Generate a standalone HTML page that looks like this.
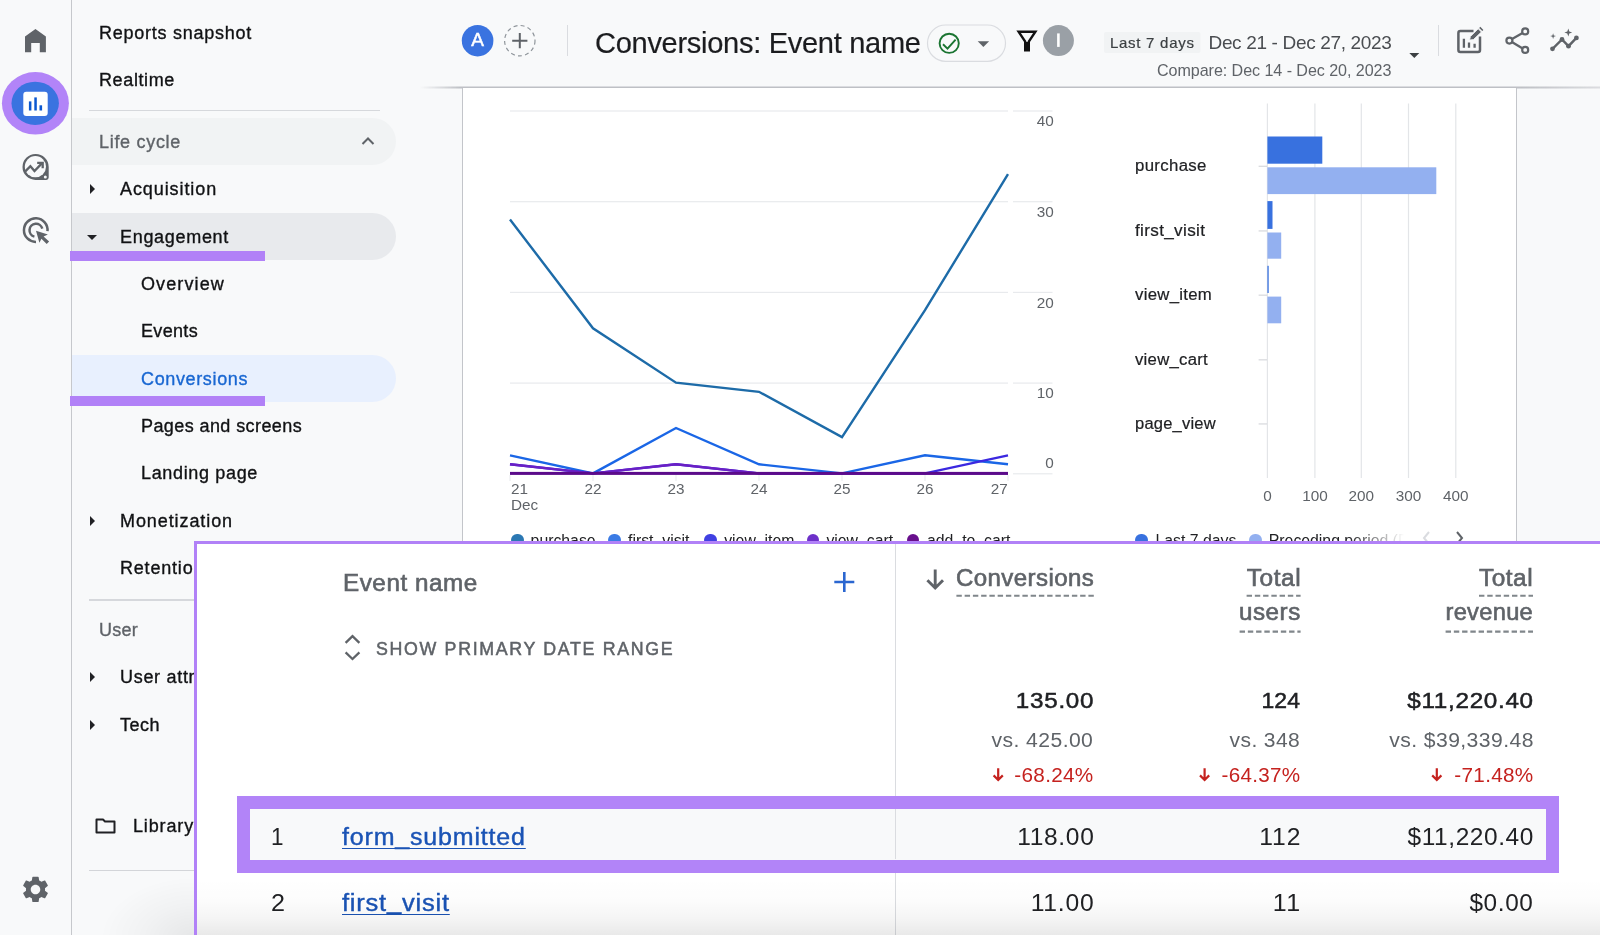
<!DOCTYPE html>
<html>
<head>
<meta charset="utf-8">
<title>Conversions: Event name</title>
<style>
html,body{margin:0;padding:0;}
body{width:1600px;height:935px;overflow:hidden;position:relative;background:#f8f9fa;font-family:"Liberation Sans",sans-serif;color:#202124;}
.abs{position:absolute;}
.t{position:absolute;white-space:nowrap;line-height:1;}
svg{position:absolute;overflow:visible;}
/* nav */
.nav{font-size:18px;color:#111214;-webkit-text-stroke-width:0.35px;}
.pill{position:absolute;left:72px;width:324px;height:47px;border-radius:0 24px 24px 0;}
.sep{position:absolute;height:1px;background:#dadce0;}
.ul{position:absolute;background:#b181f7;}
.tri{position:absolute;width:0;height:0;}
/* chart */
.ax{font-size:15.3px;color:#5f6368;}
.bl{font-size:16px;color:#202124;-webkit-text-stroke-width:0.2px;}
/* overlay */
.hd{font-size:23px;color:#5f6368;-webkit-text-stroke:0.6px #5f6368;}
.du{position:absolute;height:0;border-top:2px dashed #80868b;}
.tot{font-size:22.6px;color:#202124;-webkit-text-stroke:0.5px #202124;}
.vs{font-size:20px;color:#5f6368;}
.pc{font-size:20px;color:#c5221f;}
.cell{font-size:23px;color:#202124;}
.lnk{font-size:23px;color:#1a53b5;text-decoration:underline;text-decoration-thickness:1.3px;text-underline-offset:2.6px;text-decoration-skip-ink:none;-webkit-text-stroke:0.4px #1a53b5;}
.lnk span{position:relative;top:-1.6px;}
</style>
</head>
<body>
<div id="wrap" style="position:absolute;left:0;top:0;width:1600px;height:935px;will-change:transform;">

<!-- ============ LEFT ICON RAIL ============ -->
<div id="rail" class="abs" style="left:0;top:0;width:71px;height:935px;background:#f8f9fa;border-right:1.3px solid #c6c8cc;"></div>
<!-- home -->
<svg style="left:0;top:0;" width="72" height="935" viewBox="0 0 72 935">
<path d="M35.45 29 L25 36.6 V52.3 H31.2 V42.9 H39.8 V52.3 H45.9 V36.6 Z" fill="#5f6368"/>
<!-- reports (active) -->
<ellipse cx="35.4" cy="103.3" rx="33.5" ry="31.2" fill="#b284f8"/>
<ellipse cx="35.2" cy="103.3" rx="23.7" ry="21.6" fill="#3a73e0"/>
<rect x="23.3" y="91.8" width="24.4" height="24.2" rx="3" fill="#fff"/>
<rect x="28.9" y="101.4" width="2.5" height="9.1" fill="#0b57d0"/>
<rect x="34.3" y="97.4" width="2.5" height="13.1" fill="#0b57d0"/>
<rect x="39.5" y="105.3" width="2.6" height="5.2" fill="#0b57d0"/>
<!-- explore -->
<path d="M35.5 153.9 A13 13 0 1 0 35.5 179.9 H46.3 A2.4 2.4 0 0 0 48.7 177.5 V166.9 A13 13 0 0 0 35.5 153.9 Z" fill="#5f6368"/>
<circle cx="35.4" cy="166.7" r="10.6" fill="#f8f9fa"/>
<circle cx="45.3" cy="176.9" r="1.5" fill="#f8f9fa"/>
<path d="M25.3 171.4 L30.4 166.2 L34.5 171 L41.6 163.6" fill="none" stroke="#5f6368" stroke-width="2.3"/>
<path d="M37.2 162.9 H42.7 V168.2" fill="none" stroke="#5f6368" stroke-width="2.3"/>
<!-- advertising -->
<path d="M47.5 231.2 A11.8 11.8 0 1 0 36 241.9" fill="none" stroke="#5f6368" stroke-width="2.5"/>
<path d="M42.3 228.6 A6.5 6.5 0 1 0 34.4 236.6" fill="none" stroke="#5f6368" stroke-width="2.5"/>
<path d="M36 230.7 L47.9 234.4 L43.6 236.4 L49.1 241.6 L46.7 243.9 L41.4 238.7 L39.4 242.8 Z" fill="#5f6368"/>
<!-- settings gear -->
<g transform="translate(19.6,873.5) scale(1.325)"><path fill="#5f6368" d="M19.14 12.94c.04-.3.06-.61.06-.94 0-.32-.02-.64-.07-.94l2.03-1.58c.18-.14.23-.41.12-.61l-1.92-3.32c-.12-.22-.37-.29-.59-.22l-2.39.96c-.5-.38-1.03-.7-1.62-.94l-.36-2.54c-.04-.24-.24-.41-.48-.41h-3.84c-.24 0-.43.17-.47.41l-.36 2.54c-.59.24-1.13.57-1.62.94l-2.39-.96c-.22-.08-.47 0-.59.22L2.74 8.87c-.12.21-.08.47.12.61l2.03 1.58c-.05.3-.09.63-.09.94s.02.64.07.94l-2.03 1.58c-.18.14-.23.41-.12.61l1.92 3.32c.12.22.37.29.59.22l2.39-.96c.5.38 1.03.7 1.62.94l.36 2.54c.05.24.24.41.48.41h3.84c.24 0 .44-.17.47-.41l.36-2.54c.59-.24 1.13-.56 1.62-.94l2.39.96c.22.08.47 0 .59-.22l1.92-3.32c.12-.22.07-.47-.12-.61l-2.01-1.58zM12 15.6c-1.98 0-3.6-1.62-3.6-3.6s1.62-3.6 3.6-3.6 3.6 1.62 3.6 3.6-1.62 3.6-3.6 3.6z"/></g>
</svg>


<!-- ============ NAV PANEL ============ -->
<div id="nav" class="abs" style="left:72px;top:0;width:350px;height:935px;"></div>
<!-- pills -->
<div class="pill" style="top:118px;background:#f1f3f4;"></div>
<div class="pill" style="top:213px;background:#e8eaed;"></div>
<div class="pill" style="top:355px;background:#e8f0fe;"></div>
<!-- purple underlines -->
<div class="ul" style="left:70px;top:251px;width:195px;height:9.5px;"></div>
<div class="ul" style="left:70px;top:395.5px;width:195px;height:10px;"></div>
<!-- separators -->
<div class="sep" style="left:89px;top:110.1px;width:291px;height:1.3px;background:#d6d8dc;"></div>
<div class="sep" style="left:89px;top:599.3px;width:120px;height:1.3px;background:#d6d8dc;"></div>
<div class="sep" style="left:89px;top:869.5px;width:120px;height:1.4px;background:#d3d5d9;"></div>
<!-- text -->
<div class="t nav" id="n1" style="letter-spacing:0.74px;left:99px;top:24px;">Reports snapshot</div>
<div class="t nav" id="n2" style="letter-spacing:0.62px;left:99px;top:71px;">Realtime</div>
<div class="t nav" id="n3" style="letter-spacing:0.7px;left:99px;top:133px;color:#5f6368;">Life cycle</div>
<div class="t nav" id="n4" style="letter-spacing:0.91px;left:120px;top:180px;">Acquisition</div>
<div class="t nav" id="n5" style="letter-spacing:0.69px;left:120px;top:228px;">Engagement</div>
<div class="t nav" id="n6" style="letter-spacing:1.12px;left:141px;top:275px;">Overview</div>
<div class="t nav" id="n7" style="letter-spacing:0.33px;left:141px;top:322px;">Events</div>
<div class="t nav" id="n8" style="letter-spacing:0.64px;left:141px;top:370px;color:#1967d2;">Conversions</div>
<div class="t nav" id="n9" style="letter-spacing:0.41px;left:141px;top:417px;">Pages and screens</div>
<div class="t nav" id="n10" style="letter-spacing:0.66px;left:141px;top:464px;">Landing page</div>
<div class="t nav" id="n11" style="letter-spacing:0.91px;left:120px;top:512px;">Monetization</div>
<div class="t nav" id="n12" style="letter-spacing:0.8px;left:120px;top:559px;">Retention</div>
<div class="t nav" id="n13" style="letter-spacing:0.25px;left:99px;top:621px;color:#5f6368;">User</div>
<div class="t nav" id="n14" style="letter-spacing:0.7px;left:120px;top:668px;">User attributes</div>
<div class="t nav" id="n15" style="letter-spacing:0.5px;left:120px;top:716px;">Tech</div>
<div class="t nav" id="n16" style="letter-spacing:0.86px;left:133px;top:817px;">Library</div>
<!-- triangles -->
<div class="tri" style="left:90px;top:184px;border-top:5px solid transparent;border-bottom:5px solid transparent;border-left:5px solid #202124;"></div>
<div class="tri" style="left:87px;top:235px;border-left:5px solid transparent;border-right:5px solid transparent;border-top:5px solid #202124;"></div>
<div class="tri" style="left:90px;top:516px;border-top:5px solid transparent;border-bottom:5px solid transparent;border-left:5px solid #202124;"></div>
<div class="tri" style="left:90px;top:672px;border-top:5px solid transparent;border-bottom:5px solid transparent;border-left:5px solid #202124;"></div>
<div class="tri" style="left:90px;top:720px;border-top:5px solid transparent;border-bottom:5px solid transparent;border-left:5px solid #202124;"></div>
<!-- chevron up -->
<svg style="left:361px;top:136px;" width="14" height="10" viewBox="0 0 14 10"><path d="M1.5 8 L7 2.5 L12.5 8" fill="none" stroke="#5f6368" stroke-width="2"/></svg>
<!-- folder -->
<svg style="left:95px;top:817px;" width="21" height="17" viewBox="0 0 21 17"><path d="M1.5 2.5 H8 L10 4.5 H19.5 V15.5 H1.5 Z" fill="none" stroke="#202124" stroke-width="2" stroke-linejoin="round"/></svg>


<!-- ============ HEADER ============ -->
<div id="header" class="abs" style="left:422px;top:0;width:1178px;height:87px;"></div>
<!-- header bottom line + soft shadow -->
<div class="abs" style="left:420px;top:86px;width:1180px;height:3px;background:linear-gradient(to right,rgba(190,192,197,0) 0,rgba(190,192,197,1) 40px,rgba(190,192,197,1) 1100px,rgba(190,192,197,0.5) 1180px);-webkit-mask-image:linear-gradient(to bottom,rgba(0,0,0,.25),rgba(0,0,0,1) 50%,rgba(0,0,0,.25));"></div>
<svg style="left:0;top:0;" width="1600" height="88" viewBox="0 0 1600 88">
<!-- A badge -->
<circle cx="477.6" cy="40.7" r="15.8" fill="#3a73e0"/>
<!-- dashed add -->
<circle cx="519.8" cy="40.7" r="15.2" fill="none" stroke="#8f959b" stroke-width="1.2" stroke-dasharray="4 3.2"/>
<path d="M512.2 40.7 H527.4 M519.8 33.1 V48.3" stroke="#5f6368" stroke-width="2" fill="none"/>
<rect x="567" y="25" width="1" height="31" fill="#dadce0"/>
<!-- status pill -->
<rect x="927.5" y="25" width="78" height="36.3" rx="18.1" fill="none" stroke="#dadce0" stroke-width="1.2"/>
<circle cx="949.2" cy="43.3" r="9.6" fill="none" stroke="#1a7431" stroke-width="1.9"/>
<path d="M943 44.3 L947.5 48.6 L955.6 39.6" fill="none" stroke="#1a7431" stroke-width="1.9"/>
<path d="M977.7 41.3 H989.1 L983.4 47 Z" fill="#5f6368"/>
<!-- filter -->
<path d="M1018.6 31.7 H1035.4 L1028.8 41.6 V50.2 H1025.2 V41.6 Z" fill="none" stroke="#111" stroke-width="2.4" stroke-linejoin="miter"/>
<rect x="1024.6" y="42" width="4.8" height="9" fill="#111"/>
<!-- I badge -->
<circle cx="1058.4" cy="40.6" r="15.5" fill="#9aa0a6"/>
<rect x="1057.1" y="33.4" width="2.6" height="13.5" fill="#fff"/>
<!-- date chip -->
<rect x="1104" y="32" width="96.5" height="21" rx="2" fill="#f1f3f4"/>
<path d="M1409.3 53 H1419.3 L1414.3 58 Z" fill="#3c4043"/>
<rect x="1438" y="25" width="1" height="31" fill="#dadce0"/>
<!-- edit chart icon -->
<path d="M1473.5 30.9 H1460.4 a2 2 0 0 0 -2 2 V50 a2 2 0 0 0 2 2 H1478 a2 2 0 0 0 2 -2 V36.5" fill="none" stroke="#5f6368" stroke-width="2.5"/>
<path d="M1463.9 38.7 V47.8 M1469 42.6 V47.8 M1474.6 43.8 V47.8" stroke="#5f6368" stroke-width="2.3" fill="none"/>
<path d="M1469.6 40 L1470.4 36.6 L1478.2 28.8 L1481.4 32 L1473.4 39.6 Z" fill="#5f6368" stroke="#f8f9fa" stroke-width="0.8"/>
<path d="M1479.2 27.9 L1480.3 26.8 L1483.4 29.9 L1482.3 31 Z" fill="#5f6368"/>
<!-- share icon -->
<path d="M1525.2 31.4 L1509.4 40.6 L1525.2 49.9" fill="none" stroke="#5f6368" stroke-width="2.3"/>
<circle cx="1525.2" cy="31.4" r="3" fill="#f8f9fa" stroke="#5f6368" stroke-width="2.2"/>
<circle cx="1509.4" cy="40.6" r="3" fill="#f8f9fa" stroke="#5f6368" stroke-width="2.2"/>
<circle cx="1525.2" cy="49.9" r="3" fill="#f8f9fa" stroke="#5f6368" stroke-width="2.2"/>
<!-- insights icon -->
<path d="M1552.5 48.8 L1562 39.5 L1568.5 46.2 L1576.4 37.9" fill="none" stroke="#5f6368" stroke-width="2.4"/>
<circle cx="1552.5" cy="48.8" r="2.4" fill="#5f6368"/><circle cx="1562" cy="39.5" r="2.4" fill="#5f6368"/><circle cx="1568.5" cy="46.2" r="2.4" fill="#5f6368"/><circle cx="1576.4" cy="37.9" r="2.4" fill="#5f6368"/>
<path d="M1568.3 28.6 L1569.3 31.5 L1572.2 32.5 L1569.3 33.5 L1568.3 36.4 L1567.3 33.5 L1564.4 32.5 L1567.3 31.5 Z" fill="#5f6368"/>
<path d="M1553.1 33.2 L1553.8 35.4 L1556 36.1 L1553.8 36.8 L1553.1 39 L1552.4 36.8 L1550.2 36.1 L1552.4 35.4 Z" fill="#5f6368"/>
</svg>
<div class="t" id="hA" style="left:471.2px;top:30.3px;font-size:19px;color:#fff;-webkit-text-stroke-width:0.5px;">A</div>
<div class="t" id="hT" style="top:27.6px;font-size:30px;color:#1b1c1f;-webkit-text-stroke-width:0.2px;letter-spacing:-0.32px;transform:scaleX(0.9688);transform-origin:left;left:594.6px;">Conversions: Event name</div>
<div class="t" id="hL" style="left:1110px;top:35px;font-size:15px;color:#3c4043;letter-spacing:0.72px;-webkit-text-stroke-width:0.2px;">Last 7 days</div>
<div class="t" id="hD" style="left:1208.5px;top:32.7px;font-size:19px;letter-spacing:-0.34px;color:#4a4d51;">Dec 21 - Dec 27, 2023</div>
<div class="t" id="hC" style="left:1157px;top:61.6px;font-size:16.1px;letter-spacing:-0.06px;color:#5f6368;">Compare: Dec 14 - Dec 20, 2023</div>


<!-- ============ CARD ============ -->
<div id="card" class="abs" style="left:462px;top:88px;width:1053px;height:847px;background:#fff;border-left:1px solid #c3c5ca;border-right:1px solid #c3c5ca;"></div>
<!-- line chart -->
<svg style="left:0;top:0;" width="1600" height="560" viewBox="0 0 1600 560">
<rect x="510" y="110.4" width="498" height="1.2" fill="#e8eaed"/><rect x="1013" y="110.4" width="39.5" height="1.2" fill="#e8eaed"/><rect x="510" y="201.1" width="498" height="1.2" fill="#e8eaed"/><rect x="1013" y="201.1" width="39.5" height="1.2" fill="#e8eaed"/><rect x="510" y="291.8" width="498" height="1.2" fill="#e8eaed"/><rect x="1013" y="291.8" width="39.5" height="1.2" fill="#e8eaed"/><rect x="510" y="382.5" width="498" height="1.2" fill="#e8eaed"/><rect x="1013" y="382.5" width="39.5" height="1.2" fill="#e8eaed"/><rect x="1013" y="473.2" width="39.5" height="1.2" fill="#e8eaed"/><rect x="509.5" y="475" width="1" height="6" fill="#e8eaed"/><rect x="592.5" y="475" width="1" height="6" fill="#e8eaed"/><rect x="675.5" y="475" width="1" height="6" fill="#e8eaed"/><rect x="758.5" y="475" width="1" height="6" fill="#e8eaed"/><rect x="841.5" y="475" width="1" height="6" fill="#e8eaed"/><rect x="924.5" y="475" width="1" height="6" fill="#e8eaed"/><rect x="1007.5" y="475" width="1" height="6" fill="#e8eaed"/>
<polyline points="510.0,219.4 593.0,328.3 676.0,382.7 759.0,391.8 842.0,437.1 925.0,310.1 1008.0,174.1" fill="none" stroke="#1d6ba8" stroke-width="2.4" stroke-linejoin="miter"/>
<polyline points="510.0,455.3 593.0,473.4 676.0,428.0 759.0,464.3 842.0,473.4 925.0,455.3 1008.0,464.3" fill="none" stroke="#1a66e6" stroke-width="2.4"/>
<polyline points="510.0,464.3 593.0,473.4 676.0,464.3 759.0,473.4 842.0,473.4 925.0,473.4 1008.0,455.3" fill="none" stroke="#3b28e0" stroke-width="2.4"/>
<polyline points="510.0,464.3 593.0,473.4 676.0,464.3 759.0,473.4 842.0,473.4 925.0,473.4 1008.0,473.4" fill="none" stroke="#6a1fc4" stroke-width="2.4"/>
<rect x="510" y="471.9" width="498" height="3" fill="#5b0b8a"/>
</svg>
<div class="t ax" style="right:546.2px;top:113.3px;">40</div><div class="t ax" style="right:546.2px;top:204.0px;">30</div><div class="t ax" style="right:546.2px;top:294.7px;">20</div><div class="t ax" style="right:546.2px;top:385.4px;">10</div><div class="t ax" style="right:546.2px;top:455.4px;">0</div><div class="t ax" style="left:511px;top:481.1px;">21</div><div class="t ax" style="left:511px;top:496.7px;">Dec</div><div class="t ax" style="left:573px;top:481.1px;width:40px;text-align:center;">22</div><div class="t ax" style="left:656px;top:481.1px;width:40px;text-align:center;">23</div><div class="t ax" style="left:739px;top:481.1px;width:40px;text-align:center;">24</div><div class="t ax" style="left:822px;top:481.1px;width:40px;text-align:center;">25</div><div class="t ax" style="left:905px;top:481.1px;width:40px;text-align:center;">26</div><div class="t ax" style="right:592.2px;top:481.1px;">27</div><div class="abs" style="left:510.8px;top:533.5px;width:12.8px;height:12.8px;border-radius:50%;background:#2b78b3;"></div><div class="t" style="left:530.6px;top:532.9px;font-size:15.8px;color:#202124;">purchase</div><div class="abs" style="left:608.0px;top:533.5px;width:12.8px;height:12.8px;border-radius:50%;background:#3b7be5;"></div><div class="t" style="left:628.0px;top:532.9px;font-size:15.8px;color:#202124;">first_visit</div><div class="abs" style="left:704.3px;top:533.5px;width:12.8px;height:12.8px;border-radius:50%;background:#4040e2;"></div><div class="t" style="left:724.2px;top:532.9px;font-size:15.8px;color:#202124;">view_item</div><div class="abs" style="left:806.7px;top:533.5px;width:12.8px;height:12.8px;border-radius:50%;background:#6d30c9;"></div><div class="t" style="left:826.4px;top:532.9px;font-size:15.8px;color:#202124;">view_cart</div><div class="abs" style="left:906.7px;top:533.5px;width:12.8px;height:12.8px;border-radius:50%;background:#680f8c;"></div><div class="t" style="left:927.0px;top:532.9px;font-size:15.8px;color:#202124;">add_to_cart</div>

<!-- bar chart -->
<svg style="left:0;top:0;" width="1600" height="560" viewBox="0 0 1600 560"><rect x="1266.8" y="103.5" width="1.2" height="374.5" fill="#e3e5e8"/><rect x="1314.3" y="103.5" width="1.2" height="374.5" fill="#e3e5e8"/><rect x="1360.7" y="103.5" width="1.2" height="374.5" fill="#e3e5e8"/><rect x="1407.9" y="103.5" width="1.2" height="374.5" fill="#e3e5e8"/><rect x="1455.2" y="103.5" width="1.2" height="374.5" fill="#e3e5e8"/><rect x="1258.6" y="165.7" width="8.4" height="1.1" fill="#d3d5d9"/><rect x="1258.6" y="230.4" width="8.4" height="1.1" fill="#d3d5d9"/><rect x="1258.6" y="294.6" width="8.4" height="1.1" fill="#d3d5d9"/><rect x="1258.6" y="359.3" width="8.4" height="1.1" fill="#d3d5d9"/><rect x="1258.6" y="423.4" width="8.4" height="1.1" fill="#d3d5d9"/><rect x="1267.4" y="136.5" width="54.9" height="27.2" fill="#3871df"/><rect x="1267.4" y="167.3" width="168.9" height="26.8" fill="#93b0f0"/>
<rect x="1267.4" y="201.1" width="5.1" height="27.8" fill="#3871df"/><rect x="1267.4" y="232.5" width="13.8" height="26.2" fill="#93b0f0"/>
<rect x="1267.4" y="265.8" width="1.3" height="27.2" fill="#3871df"/><rect x="1267.4" y="296.6" width="13.8" height="26.7" fill="#93b0f0"/></svg>
<div class="t bl" id="b1" style="top:158.1px;letter-spacing:0.32px;transform:scaleX(1.0491);transform-origin:left;left:1134.9px;">purchase</div><div class="t bl" id="b2" style="top:222.8px;letter-spacing:0.31px;transform:scaleX(1.0704);transform-origin:left;left:1135.3px;">first_visit</div><div class="t bl" id="b3" style="top:287.0px;letter-spacing:0.28px;transform:scaleX(1.0455);transform-origin:left;left:1135.3px;">view_item</div><div class="t bl" id="b4" style="top:351.7px;letter-spacing:0.26px;transform:scaleX(1.0441);transform-origin:left;left:1135.3px;">view_cart</div><div class="t bl" id="b5" style="top:415.8px;letter-spacing:0.21px;transform:scaleX(1.0322);transform-origin:left;left:1134.9px;">page_view</div><div class="t ax" style="left:1237.4px;top:487.5px;width:60px;text-align:center;">0</div><div class="t ax" style="left:1284.9px;top:487.5px;width:60px;text-align:center;">100</div><div class="t ax" style="left:1331.3px;top:487.5px;width:60px;text-align:center;">200</div><div class="t ax" style="left:1378.5px;top:487.5px;width:60px;text-align:center;">300</div><div class="t ax" style="left:1425.8px;top:487.5px;width:60px;text-align:center;">400</div><div class="abs" style="left:1135.3px;top:533.5px;width:12.8px;height:12.8px;border-radius:50%;background:#3871df;"></div><div class="t" style="left:1155.5px;top:532.9px;font-size:15.8px;color:#202124;">Last 7 days</div>
<div class="abs" style="left:1249.3px;top:533.5px;width:12.8px;height:12.8px;border-radius:50%;background:#93b0f0;"></div><div class="t" style="left:1268.8px;top:532.9px;font-size:15.8px;color:#202124;-webkit-mask-image:linear-gradient(to right,#000 0,#000 78px,transparent 135px);">Preceding period (Dec</div>
<svg style="left:1420px;top:530px;" width="50" height="14" viewBox="0 0 50 14"><path d="M9 2 L4 8 L9 14" fill="none" stroke="#dadce0" stroke-width="2"/><path d="M37 2 L42 8 L37 14" fill="none" stroke="#5f6368" stroke-width="2"/></svg>


<!-- ============ OVERLAY ============ -->
<div class="abs" style="left:72px;top:815px;width:123px;height:120px;background:radial-gradient(ellipse 95px 62px at 100% 103%,rgba(0,0,0,0.075),rgba(0,0,0,0.028) 55%,rgba(0,0,0,0) 100%);"></div>
<div id="overlay" class="abs" style="left:194px;top:541px;width:1406px;height:394px;background:#fff;border-left:3px solid #b181f7;border-top:3px solid #b181f7;box-sizing:border-box;"></div>
<!-- column divider -->
<div class="abs" style="left:895px;top:544px;width:1px;height:391px;background:#dadce0;"></div>
<!-- highlight row -->
<div class="abs" style="left:237.2px;top:795.7px;width:1321.4px;height:77px;box-sizing:border-box;border:13.4px solid #b284f8;background:#f8f9fa;"></div>
<div class="abs" style="left:895px;top:809px;width:1px;height:50.4px;background:#dadce0;"></div>
<svg style="left:0;top:541px;" width="1600" height="394" viewBox="0 541 1600 394">
<!-- plus -->
<path d="M834.3 582 H854.3 M844.3 572 V592" stroke="#2a66d0" stroke-width="2.6" fill="none"/>
<!-- sort chevrons -->
<path d="M345.6 642.8 L352.5 636.2 L359.4 642.8" fill="none" stroke="#5f6368" stroke-width="2.3"/>
<path d="M345.6 652.4 L352.5 659 L359.4 652.4" fill="none" stroke="#5f6368" stroke-width="2.3"/>
<!-- sort arrow -->
<path d="M935.2 569.6 V587 M927.4 580.2 L935.2 588 L943 580.2" fill="none" stroke="#5f6368" stroke-width="2.9"/>
<!-- dashed underlines -->
<path d="M956.4 595.7 H1094 M1246.6 595.7 H1300.6 M1239.6 631.6 H1300.6 M1479 595.7 H1533 M1445.6 631.6 H1533" stroke="#80868b" stroke-width="2.1" stroke-dasharray="5.4 2.85" fill="none"/>
<!-- red arrows -->
<g fill="none" stroke="#c5221f" stroke-width="2.2">
<path d="M998.2 768.2 V779.6 M993.6 775.4 L998.2 780 L1002.8 775.4"/>
<path d="M1204.6 768.2 V779.6 M1200 775.4 L1204.6 780 L1209.2 775.4"/>
<path d="M1436.8 768.2 V779.6 M1432.2 775.4 L1436.8 780 L1441.4 775.4"/>
</g>
</svg>
<div class="t hd" id="oE" style="top:572.0px;letter-spacing:0.51px;transform:scaleX(1.0540);transform-origin:left;left:343.4px;">Event name</div>
<div class="t" id="oS" style="top:641.3px;font-size:17.8px;color:#5f6368;-webkit-text-stroke:0.5px #5f6368;letter-spacing:1.67px;transform:scaleX(1.0000);transform-origin:left;left:376.0px;">SHOW PRIMARY DATE RANGE</div>
<div class="t hd" id="oC" style="top:566.6px;letter-spacing:0.40px;transform:scaleX(1.0458);transform-origin:right;right:505.7px;">Conversions</div>
<div class="t hd" id="oT1" style="top:566.6px;letter-spacing:0.53px;transform:scaleX(1.0628);transform-origin:right;right:298.9px;">Total</div>
<div class="t hd" id="oU" style="top:601.2px;letter-spacing:0.50px;transform:scaleX(1.0510);transform-origin:right;right:299.0px;">users</div>
<div class="t hd" id="oT2" style="top:566.6px;letter-spacing:0.51px;transform:scaleX(1.0605);transform-origin:right;right:66.8px;">Total</div>
<div class="t hd" id="oR" style="top:601.2px;letter-spacing:0.28px;transform:scaleX(1.0295);transform-origin:right;right:67.0px;">revenue</div>
<div class="t tot" id="t1" style="top:690.0px;letter-spacing:0.68px;transform:scaleX(1.0703);transform-origin:right;right:506.1px;">135.00</div>
<div class="t tot" id="t2" style="top:690.0px;letter-spacing:0.20px;transform:scaleX(1.0157);transform-origin:right;right:300.1px;">124</div>
<div class="t tot" id="t3" style="top:690.0px;letter-spacing:0.64px;transform:scaleX(1.0737);transform-origin:right;right:66.3px;">$11,220.40</div>
<div class="t vs" id="v1" style="top:729.5px;letter-spacing:0.40px;transform:scaleX(1.0569);transform-origin:right;right:506.4px;">vs. 425.00</div>
<div class="t vs" id="v2" style="top:729.5px;letter-spacing:0.37px;transform:scaleX(1.0505);transform-origin:right;right:299.9px;">vs. 348</div>
<div class="t vs" id="v3" style="top:729.5px;letter-spacing:0.40px;transform:scaleX(1.0571);transform-origin:right;right:66.6px;">vs. $39,339.48</div>
<div class="t pc" id="p1" style="top:764.9px;letter-spacing:0.30px;transform:scaleX(1.0354);transform-origin:right;right:506.1px;">-68.24%</div>
<div class="t pc" id="p2" style="top:764.9px;letter-spacing:0.27px;transform:scaleX(1.0315);transform-origin:right;right:299.5px;">-64.37%</div>
<div class="t pc" id="p3" style="top:764.9px;letter-spacing:0.30px;transform:scaleX(1.0354);transform-origin:right;right:66.7px;">-71.48%</div>
<div class="t cell" id="r1n" style="top:826.1px;letter-spacing:-0.12px;transform:scaleX(0.9768);transform-origin:left;left:271.0px;">1</div>
<div class="t lnk" id="r1e" style="top:826.1px;letter-spacing:0.75px;transform:scaleX(1.0873);transform-origin:left;left:342.0px;">form<span>_</span>submitted</div>
<div class="t cell" id="r1a" style="top:826.1px;letter-spacing:0.64px;transform:scaleX(1.0665);transform-origin:right;right:505.7px;">118.00</div>
<div class="t cell" id="r1b" style="top:826.1px;letter-spacing:0.93px;transform:scaleX(1.0721);transform-origin:right;right:298.1px;">112</div>
<div class="t cell" id="r1c" style="top:826.1px;letter-spacing:0.55px;transform:scaleX(1.0628);transform-origin:right;right:66.4px;">$11,220.40</div>
<div class="t cell" id="r2n" style="top:891.9px;letter-spacing:0.48px;transform:scaleX(1.0940);transform-origin:left;left:271.3px;">2</div>
<div class="t lnk" id="r2e" style="top:891.9px;letter-spacing:0.70px;transform:scaleX(1.1091);transform-origin:left;left:342.0px;">first<span>_</span>visit</div>
<div class="t cell" id="r2a" style="top:891.9px;letter-spacing:0.71px;transform:scaleX(1.0730);transform-origin:right;right:505.6px;">11.00</div>
<div class="t cell" id="r2b" style="top:891.9px;letter-spacing:1.44px;transform:scaleX(1.0855);transform-origin:right;right:297.9px;">11</div>
<div class="t cell" id="r2c" style="top:891.9px;letter-spacing:0.58px;transform:scaleX(1.0585);transform-origin:right;right:66.4px;">$0.00</div>
<!-- bottom fade -->
<div class="abs" style="left:197px;top:878px;width:1403px;height:57px;background:linear-gradient(to bottom,rgba(0,0,0,0) 0,rgba(0,0,0,0.012) 40%,rgba(0,0,0,0.04) 70%,rgba(0,0,0,0.085) 100%);"></div>


</div>
</body>
</html>
